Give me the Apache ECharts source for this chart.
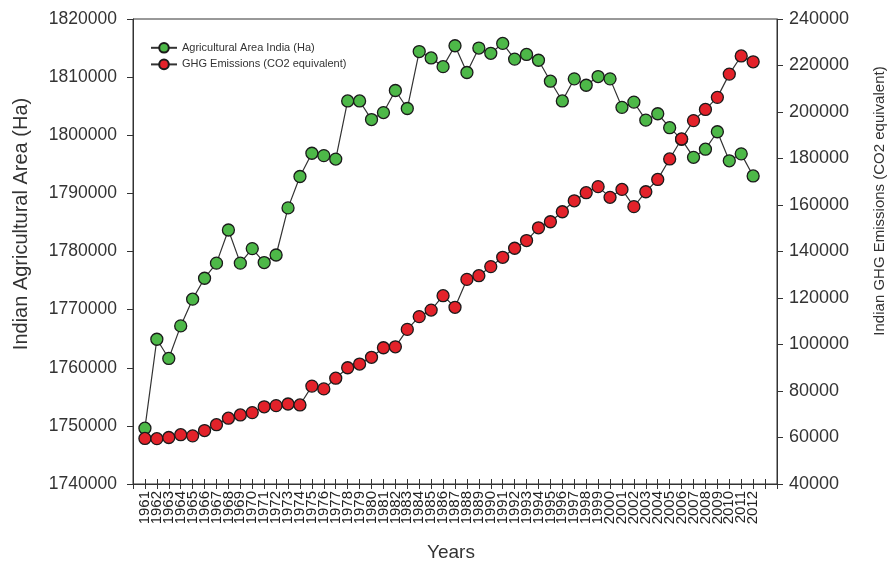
<!DOCTYPE html>
<html>
<head>
<meta charset="utf-8">
<script src="https://cdn.jsdelivr.net/npm/echarts@6/dist/echarts.min.js"></script>
<style>
  html, body { margin: 0; padding: 0; background: #ffffff; }
  #chart { width: 891px; height: 566px; }
</style>
</head>
<body>
<div id="chart"></div>
<script>
// Years on the horizontal axis
const years = [
  1961, 1962, 1963, 1964, 1965, 1966, 1967, 1968, 1969, 1970,
  1971, 1972, 1973, 1974, 1975, 1976, 1977, 1978, 1979, 1980,
  1981, 1982, 1983, 1984, 1985, 1986, 1987, 1988, 1989, 1990,
  1991, 1992, 1993, 1994, 1995, 1996, 1997, 1998, 1999, 2000,
  2001, 2002, 2003, 2004, 2005, 2006, 2007, 2008, 2009, 2010,
  2011, 2012
];

// Agricultural area of India (Ha), left axis
const agriArea = [
  1749600, 1764900, 1761600, 1767200, 1771800, 1775400, 1778000, 1783700, 1778000, 1780500,
  1778100, 1779400, 1787500, 1792900, 1796900, 1796500, 1795900, 1805900, 1805900, 1802700,
  1803900, 1807700, 1804600, 1814400, 1813300, 1811800, 1815400, 1810800, 1815000, 1814100,
  1815800, 1813100, 1813900, 1812900, 1809300, 1805900, 1809700, 1808600, 1810100, 1809700,
  1804800, 1805700, 1802600, 1803700, 1801300, 1799300, 1796200, 1797600, 1800600, 1795600,
  1796800, 1793000
];

// GHG emissions (CO2 equivalent), right axis
const ghgEmissions = [
  59600, 59500, 60000, 61200, 60700, 63000, 65500, 68300, 69700, 70700,
  73200, 73700, 74400, 74000, 82100, 80900, 85500, 90000, 91600, 94500,
  98600, 99000, 106500, 112000, 114800, 121000, 116000, 128000, 129600, 133500,
  137500, 141400, 144700, 150200, 152800, 157100, 161800, 165300, 167900, 163300,
  166700, 159300, 165700, 171000, 179800, 188400, 196300, 201100, 206300, 216300,
  224100, 221600
];

// Axis ranges and tick steps
const leftAxisRange = [1740000, 1820000, 10000];
const rightAxisRange = [40000, 240000, 20000];
const yearAxisRange = [1960, 2014, 1];

const seriesNames = ['Agricultural Area India (Ha)', 'GHG Emissions (CO2 equivalent)'];
const axisTitles = ['Indian Agricultural Area (Ha)', 'Indian GHG Emissions (CO2 equivalent)', 'Years'];

const FONT = '"Liberation Sans", Arial, sans-serif';
const INK = '#333333';

const plainNumber = (v) => String(v);

const chart = echarts.init(document.getElementById('chart'), null, { renderer: 'canvas' });

const yearAxisBase = {
  type: 'value',
  min: yearAxisRange[0],
  max: yearAxisRange[1],
  interval: yearAxisRange[2],
  position: 'bottom',
  splitLine: { show: false }
};

const option = {
  animation: false,
  backgroundColor: '#ffffff',
  textStyle: { fontFamily: FONT },
  grid: {
    left: 133, right: 114, top: 19, bottom: 82,
    show: true, borderColor: INK, borderWidth: 1, backgroundColor: 'transparent'
  },
  legend: {
    left: 145, top: 37, orient: 'vertical',
    itemWidth: 26, itemHeight: 12, itemGap: 5,
    textStyle: { fontSize: 11, color: INK, fontFamily: FONT },
    data: seriesNames
  },
  xAxis: [
    Object.assign({}, yearAxisBase, {
      axisLine: { show: true, lineStyle: { color: INK, width: 1 } },
      axisTick: { show: true, length: 5, lineStyle: { color: INK, width: 1 } },
      axisLabel: {
        rotate: 90, fontSize: 15, color: '#222', margin: 7, fontFamily: FONT,
        formatter: function (v) {
          return (v >= years[0] && v <= years[years.length - 1]) ? String(v) : '';
        }
      }
    }),
    Object.assign({}, yearAxisBase, {
      axisLine: { show: false },
      axisTick: { show: true, inside: true, length: 5, lineStyle: { color: INK, width: 1 } },
      axisLabel: { show: false }
    })
  ],
  yAxis: [
    {
      type: 'value', position: 'left',
      min: leftAxisRange[0], max: leftAxisRange[1], interval: leftAxisRange[2],
      axisLine: { show: true, lineStyle: { color: INK, width: 1 } },
      axisTick: { show: true, length: 6, lineStyle: { color: INK } },
      axisLabel: { fontSize: 17.5, color: INK, margin: 16, fontFamily: FONT, formatter: plainNumber },
      splitLine: { show: false }
    },
    {
      type: 'value', position: 'right',
      min: rightAxisRange[0], max: rightAxisRange[1], interval: rightAxisRange[2],
      axisLine: { show: true, lineStyle: { color: INK, width: 1 } },
      axisTick: { show: true, length: 6, lineStyle: { color: INK } },
      axisLabel: { fontSize: 18, color: INK, margin: 12, fontFamily: FONT, formatter: plainNumber },
      splitLine: { show: false }
    }
  ],
  graphic: [
    {
      type: 'text', x: 21, y: 224, rotation: Math.PI / 2,
      style: { text: axisTitles[0], fontSize: 20, fill: INK, fontFamily: FONT, align: 'center', verticalAlign: 'middle' }
    },
    {
      type: 'text', x: 880, y: 201, rotation: Math.PI / 2,
      style: { text: axisTitles[1], fontSize: 15, fill: INK, fontFamily: FONT, align: 'center', verticalAlign: 'middle' }
    },
    {
      type: 'text', x: 451, y: 553,
      style: { text: axisTitles[2], fontSize: 19, fill: INK, fontFamily: FONT, align: 'center', verticalAlign: 'middle' }
    }
  ],
  series: [
    {
      name: seriesNames[0], type: 'line', xAxisIndex: 0, yAxisIndex: 0,
      data: years.map((y, i) => [y, agriArea[i]]),
      symbol: 'circle', symbolSize: 12, showAllSymbol: true,
      lineStyle: { color: INK, width: 1.2 },
      itemStyle: { color: '#4DB848', borderColor: '#1a1a1a', borderWidth: 1.3 },
      emphasis: { disabled: true }
    },
    {
      name: seriesNames[1], type: 'line', xAxisIndex: 0, yAxisIndex: 1,
      data: years.map((y, i) => [y, ghgEmissions[i]]),
      symbol: 'circle', symbolSize: 12, showAllSymbol: true,
      lineStyle: { color: INK, width: 1.2 },
      itemStyle: { color: '#E3222A', borderColor: '#1a1a1a', borderWidth: 1.3 },
      emphasis: { disabled: true }
    }
  ]
};

chart.setOption(option);
</script>
</body>
</html>
